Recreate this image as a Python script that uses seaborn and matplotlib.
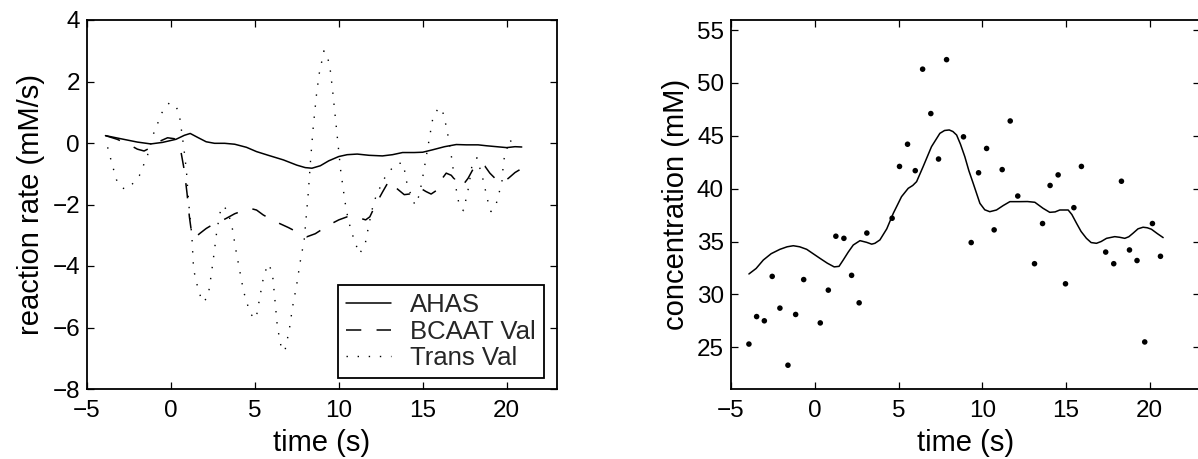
import numpy as np
import pandas as pd
import matplotlib
matplotlib.use("Agg")
import matplotlib.pyplot as plt
import seaborn as sns

# ---- left panel: reaction rates (mM/s) ----
ahas_t = [-3.9, -3.0, -2.0, -1.2, -0.5, 0.3, 0.8, 1.15, 1.6, 2.1, 2.6, 3.2, 3.8,
          4.5, 5.1, 5.8, 6.7, 7.5, 8.0, 8.4, 8.9, 9.4, 10.0, 10.5, 11.1, 11.8,
          12.6, 13.2, 13.8, 14.5, 15.0, 15.6, 16.3, 17.0, 17.6, 18.3, 18.8,
          19.4, 20.0, 20.5, 20.9]
ahas_v = [0.24, 0.14, 0.03, -0.03, 0.02, 0.12, 0.25, 0.31, 0.18, 0.04, -0.01,
          -0.01, -0.04, -0.14, -0.28, -0.40, -0.55, -0.72, -0.80, -0.82, -0.74,
          -0.58, -0.44, -0.38, -0.36, -0.40, -0.42, -0.38, -0.31, -0.31, -0.30,
          -0.22, -0.12, -0.05, -0.06, -0.06, -0.09, -0.12, -0.15, -0.12, -0.13]

bcaat_t = [-3.9, -3.2, -2.5, -2.0, -1.6, -1.2, -0.7, -0.2, 0.2, 0.56, 0.8, 0.96,
           1.1, 1.2, 1.39, 1.7, 2.1, 2.5, 2.9, 3.3, 3.8, 4.3, 4.75, 5.1, 5.5,
           6.2, 7.0, 7.6, 8.1, 8.6, 9.4, 10.0, 10.5, 10.9, 11.3, 11.6, 11.85,
           12.2, 12.6, 13.0, 13.5, 13.9, 14.2, 14.5, 14.8, 15.2, 15.5, 15.8,
           16.1, 16.4, 16.7, 17.0, 17.35, 17.7, 18.0, 18.4, 18.7, 19.0, 19.4,
           19.75, 20.1, 20.5, 20.9]
bcaat_v = [0.24, 0.12, -0.05, -0.20, -0.26, -0.15, 0.05, 0.17, 0.14, -0.17,
           -0.9, -1.64, -2.4, -2.8, -3.1, -2.95, -2.78, -2.65, -2.56, -2.45,
           -2.3, -2.2, -2.13, -2.18, -2.34, -2.55, -2.75, -2.92, -3.05, -2.95,
           -2.67, -2.5, -2.4, -2.37, -2.45, -2.5, -2.4, -2.0, -1.6, -1.22, -1.5,
           -1.68, -1.66, -1.52, -1.45, -1.58, -1.66, -1.55, -1.2, -0.98, -1.05,
           -1.25, -1.4, -1.15, -0.85, -0.66, -0.75, -0.98, -1.2, -1.28, -1.15,
           -0.96, -0.83]

trans_t = [-3.77, -3.5, -3.24, -2.95, -2.7, -2.4, -1.88, -1.39, -1.03, -0.53,
           -0.09, 0.3, 0.5, 0.76, 0.92, 1.06, 1.25, 1.35, 1.65, 1.91, 2.21,
           2.4, 2.57, 2.74, 2.98, 3.14, 3.4, 3.64, 3.87, 4.09, 4.33, 4.73,
           5.07, 5.3, 5.54, 5.8, 6.04, 6.16, 6.34, 6.6, 6.79, 7.05, 7.25,
           7.49, 7.69, 7.94, 8.18, 8.32, 8.48, 8.68, 8.84, 9.12, 9.3, 9.47,
           9.63, 9.83, 9.97, 10.11, 10.37, 10.56, 10.82, 11.22, 11.56, 11.81,
           12.09, 12.65, 13.24, 13.54, 13.84, 14.08, 14.54, 14.8, 15.04,
           15.38, 15.6, 15.95, 16.2, 16.43, 16.67, 16.93, 17.19, 17.43,
           17.73, 17.93, 18.23, 18.59, 18.89, 19.07, 19.38, 19.72, 19.82,
           20.18, 20.52]
trans_v = [-0.14, -0.7, -1.2, -1.45, -1.5, -1.4, -1.06, -0.39, 0.31, 0.99,
           1.31, 1.2, 0.93, -0.12, -0.88, -1.96, -3.05, -4.11, -4.83, -5.18,
           -5.0, -4.29, -3.59, -2.83, -2.12, -2.04, -2.25, -2.72, -3.48, -4.13,
           -4.83, -5.56, -5.72, -5.0, -4.29, -3.93, -4.2, -4.89, -5.97, -6.73,
           -6.76, -6.08, -5.32, -4.62, -3.9, -3.15, -1.64, -0.55, 0.53, 1.62,
           2.27, 3.0, 2.85, 2.48, 1.72, 0.64, -0.12, -0.88, -1.91, -2.5, -2.99,
           -3.61, -3.32, -2.61, -1.91, -1.2, -0.77, -0.66, -0.66, -1.37, -2.02,
           -1.69, -0.99, 0.1, 0.8, 1.16, 1.0, 0.48, -0.28, -1.31, -2.07, -2.2,
           -1.45, -0.75, -0.48, -1.18, -1.91, -2.23, -1.98, -1.26, -0.57, 0.12,
           -0.17]

# ---- right panel: concentration (mM) ----
meas_t = [-3.93, -3.47, -3.01, -2.54, -2.08, -1.6, -1.14, -0.66, 0.33, 0.81,
          1.26, 1.74, 2.2, 2.65, 3.11, 4.62, 5.06, 5.54, 6.0, 6.44, 6.93, 7.39,
          7.87, 8.88, 9.34, 9.78, 10.26, 10.71, 11.19, 11.67, 12.12, 13.12,
          13.6, 14.05, 14.53, 14.97, 15.47, 15.92, 17.37, 17.85, 18.31, 18.79,
          19.24, 19.7, 20.16, 20.64]
meas_c = [25.3, 27.9, 27.5, 31.7, 28.7, 23.3, 28.1, 31.4, 27.3, 30.4, 35.5,
          35.3, 31.8, 29.2, 35.8, 37.2, 42.1, 44.2, 41.7, 51.3, 47.1, 42.8,
          52.2, 44.9, 34.9, 41.5, 43.8, 36.1, 41.8, 46.4, 39.3, 32.9, 36.7,
          40.3, 41.3, 31.0, 38.2, 42.1, 34.0, 32.9, 40.7, 34.2, 33.2, 25.5,
          36.7, 33.6]

fit_t = [-3.93, -3.5, -3.07, -2.6, -2.08, -1.65, -1.28, -0.9, -0.48, -0.1,
         0.31, 0.75, 1.16, 1.45, 1.7, 2.0, 2.3, 2.7, 3.1, 3.4, 3.59, 3.89,
         4.3, 4.69, 4.95, 5.18, 5.58, 5.85, 6.08, 6.47, 6.97, 7.47, 7.75,
         8.03, 8.25, 8.47, 8.7, 8.96, 9.2, 9.46, 9.86, 10.15, 10.45, 10.85,
         11.25, 11.65, 12.24, 12.7, 13.14, 13.63, 14.03, 14.35, 14.63, 15.13,
         15.35, 15.63, 15.9, 16.22, 16.5, 16.82, 17.1, 17.42, 17.91, 18.2,
         18.51, 18.75, 19.0, 19.3, 19.6, 19.85, 20.1, 20.45, 20.8]
fit_c = [31.93, 32.45, 33.25, 33.85, 34.26, 34.5, 34.6, 34.5, 34.26, 33.85,
         33.41, 32.95, 32.6, 32.65, 33.25, 34.0, 34.67, 35.08, 34.92, 34.75,
         34.83, 35.15, 36.2, 37.67, 38.5, 39.24, 40.03, 40.3, 40.66, 42.08,
         43.97, 45.23, 45.5, 45.55, 45.4, 45.07, 44.2, 43.02, 41.7, 40.5,
         38.61, 38.0, 37.82, 37.98, 38.4, 38.77, 38.77, 38.78, 38.71, 38.14,
         37.76, 37.8, 37.98, 37.98, 37.55, 36.72, 35.95, 35.3, 34.9, 34.83,
         35.0, 35.3, 35.46, 35.4, 35.3, 35.45, 35.78, 36.2, 36.35, 36.3,
         36.16, 35.75, 35.37]

x_ticks = [-5, 0, 5, 10, 15, 20]
left_yticks = [-8, -6, -4, -2, 0, 2, 4]
right_yticks = [25, 30, 35, 40, 45, 50, 55]

sns.set_theme(style="white")
plt.rcParams["font.family"] = ["Liberation Sans", "DejaVu Sans"]
plt.rcParams["axes.unicode_minus"] = True

W, H = 1198, 459
fig = plt.figure(figsize=(W / 100, H / 100), dpi=100)
ax1 = fig.add_axes([87 / W, (H - 389) / H, 470 / W, 369 / H])
ax2 = fig.add_axes([731 / W, (H - 389) / H, 469 / W, 369 / H])


def style_axes(ax):
    for s in ax.spines.values():
        s.set_visible(True)
        s.set_color("black")
        s.set_linewidth(1.3)
    ax.tick_params(direction="in", length=5, width=0.9, color="black",
                   top=True, right=True, bottom=True, left=True,
                   labelsize=17.5, labelcolor="black")
    ax.tick_params(axis="x", pad=8)
    ax.tick_params(axis="y", pad=5)
    ax.grid(False)
    ax.set_facecolor("white")


# left panel
sns.lineplot(x=ahas_t, y=ahas_v, ax=ax1, color="black", lw=1.1,
             label="AHAS", sort=False)
sns.lineplot(x=bcaat_t, y=bcaat_v, ax=ax1, color="black", lw=1.1,
             linestyle=(0, (10, 10)), label="BCAAT Val", sort=False)
sns.lineplot(x=trans_t, y=trans_v, ax=ax1, color="black", lw=1.0,
             linestyle=(0, (1, 7)), label="Trans Val", sort=False)
ax1.set_xlim(-5, 23)
ax1.set_ylim(-8, 4)
ax1.set_xticks(x_ticks)
ax1.set_yticks(left_yticks)
ax1.set_xlabel("time (s)", fontsize=21, color="black", labelpad=5)
ax1.set_ylabel("reaction rate (mM/s)", fontsize=21, color="black", labelpad=5)
style_axes(ax1)
leg = ax1.legend(loc="lower right", bbox_to_anchor=(0.972, 0.030),
                 borderaxespad=0, fontsize=18.5, frameon=True, fancybox=False,
                 handlelength=1.75, handletextpad=0.75, borderpad=0.3,
                 labelspacing=0.1, framealpha=1)
leg.get_frame().set_edgecolor("black")
leg.get_frame().set_linewidth(1.3)

# right panel
sns.scatterplot(x=meas_t, y=meas_c, ax=ax2, color="black", s=16,
                edgecolor="none", legend=False)
sns.lineplot(x=fit_t, y=fit_c, ax=ax2, color="black", lw=1.1, sort=False,
             legend=False)
ax2.set_xlim(-5, 23)
ax2.set_ylim(21.05, 55.95)
ax2.set_xticks(x_ticks)
ax2.set_yticks(right_yticks)
ax2.set_xlabel("time (s)", fontsize=21, color="black", labelpad=5)
ax2.set_ylabel("concentration (mM)", fontsize=21, color="black", labelpad=5)
style_axes(ax2)

fig.savefig("out.png", dpi=100, facecolor="white")
